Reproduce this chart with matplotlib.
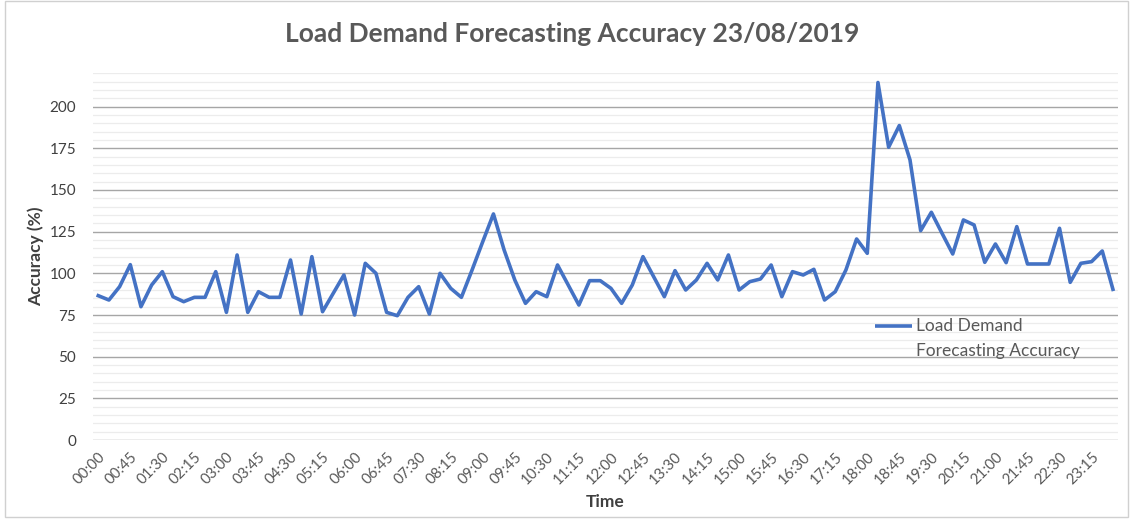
import matplotlib.pyplot as plt
from matplotlib.patches import Rectangle
import numpy as np

# 15-minute slots for the whole day
times = [f"{h:02d}:{m:02d}" for h in range(24) for m in (0, 15, 30, 45)]

accuracy = [
    86.6, 84, 92, 105.2, 80, 93, 101, 86, 83, 85.6, 85.6, 101, 76.6, 111, 76.6, 89,
    85.6, 85.6, 108, 75.6, 110, 77, 88, 99, 75, 106, 100, 76.6, 74.6, 85.6, 92, 75.6,
    100, 91, 85.6, 102, 119, 135.6, 114, 96, 82, 89, 86, 105, 93, 81, 95.6, 95.6,
    91, 82, 93, 110, 98, 86, 101.6, 90, 96, 106, 96, 111, 90, 95, 96.6, 105,
    86, 101, 99, 102.4, 84, 89, 102, 120.6, 112, 214.4, 175.6, 188.6, 168, 125.6, 136.6, 124,
    111.6, 132, 129, 106.6, 117.6, 106.4, 128, 105.6, 105.6, 105.6, 127, 94.6, 106, 107, 113.4, 90.4,
]

title = "Load Demand Forecasting Accuracy 23/08/2019"
series_name = "Load Demand\nForecasting Accuracy"
line_color = '#4472C4'

plt.rcParams['font.family'] = ['Lato', 'DejaVu Sans']

fig = plt.figure(figsize=(11.33, 5.19), dpi=100)
ax = fig.add_axes([0.082, 0.152, 0.905, 0.707])

x = np.arange(len(accuracy))
ax.plot(x, accuracy, color=line_color, linewidth=2.6, zorder=3)

ax.set_xlim(-0.5, len(accuracy) - 0.5)
ax.set_ylim(0, 220)
ax.set_yticks(np.arange(0, 201, 25))
ax.set_yticks(np.arange(0, 221, 5), minor=True)
ax.grid(axis='y', which='minor', color='#ececec', linewidth=0.9)
ax.grid(axis='y', which='major', color='#a6a6a6', linewidth=1.0)
ax.set_axisbelow(True)

ax.set_xticks(x[::3])
ax.set_xticklabels(times[::3], rotation=45, ha='right', rotation_mode='anchor',
                   fontsize=10.8, color='#595959')
ax.tick_params(axis='y', labelsize=11, colors='#404040', length=0, pad=12)
ax.tick_params(axis='x', length=0, pad=7)
ax.tick_params(which='minor', length=0)

for s in ax.spines.values():
    s.set_visible(False)

ax.set_ylabel("Accuracy (%)", fontsize=12.5, fontweight='bold', color='#404040', labelpad=4)
ax.set_xlabel("Time", fontsize=12.5, fontweight='bold', color='#404040', labelpad=5)
fig.suptitle(title, x=0.505, y=0.958, fontsize=19, fontweight='bold', color='#595959')

# legend: line sample next to a two-line label
ax.plot([0.763, 0.799], [0.312, 0.312], transform=ax.transAxes, color=line_color,
        linewidth=2.6, solid_capstyle='butt', clip_on=False)
ax.text(0.803, 0.334, series_name, transform=ax.transAxes, ha='left', va='top',
        fontsize=12.5, color='#595959', linespacing=1.7)

# thin frame around the whole chart
fig.patches.append(Rectangle((0.004, 0.004), 0.992, 0.994, transform=fig.transFigure,
                             fill=False, edgecolor='#d0d0d0', linewidth=1))

fig.savefig("out.png", dpi=100)
